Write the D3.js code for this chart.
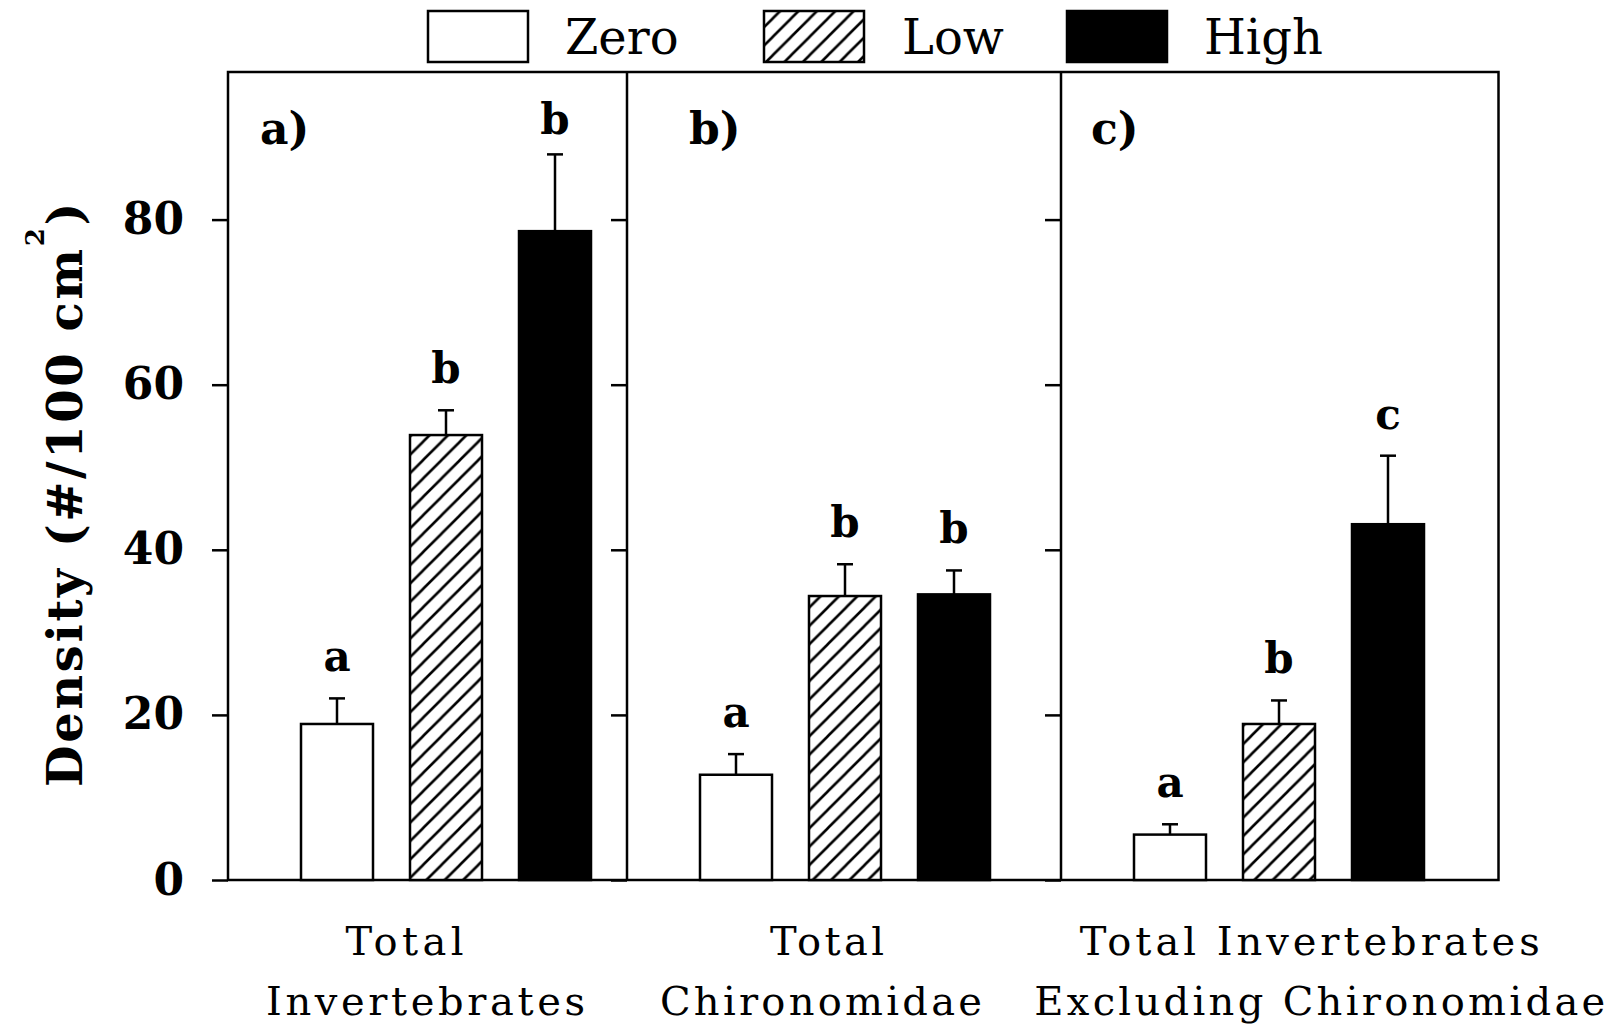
<!DOCTYPE html>
<html>
<head>
<meta charset="utf-8">
<script src="https://d3js.org/d3.v7.min.js"></script>
<style>
body { margin: 0; background: #fff; }
svg text { font-family: "DejaVu Serif", serif; fill: #000; }
.axis text { font-size: 44px; font-weight: bold; }
</style>
</head>
<body>
<script>
// chart data
var panelTags = ["a)", "b)", "c)"];
var panelLines = [["Total", "Invertebrates"], ["Total", "Chironomidae"], ["Total Invertebrates", "Excluding Chironomidae"]];
var levels = ["Zero", "Low", "High"];
var meanZero = [18.9, 12.75, 5.5];
var meanLow = [53.9, 34.4, 18.9];
var meanHigh = [78.6, 34.6, 43.1];
var seZero = [3.1, 2.5, 1.25];
var seLow = [3.0, 3.85, 2.85];
var seHigh = [9.3, 2.9, 8.3];
var sigZero = ["a", "a", "a"];
var sigLow = ["b", "b", "b"];
var sigHigh = ["b", "b", "c"];
var yTicks = [0, 20, 40, 60, 80];
var yMax = 98;

// layout
var width = 1617, height = 1032;
var edges = [228, 627, 1061, 1498.5];
var top_ = 72, base = 880;
var barW = 72;
var fills = { Zero: "#fff", Low: "url(#hatch)", High: "#000" };
var tagDx = [32, 62, 30];
var lineDx = [[-23, -2], [-17, -23], [30, 40]];
var lineLen = [[118, 319], [114, 322], [460, 571]];

var svg = d3.select("body").append("svg")
  .attr("width", width)
  .attr("height", height);

var defs = svg.append("defs");
var hatch = defs.append("pattern")
  .attr("id", "hatch")
  .attr("patternUnits", "userSpaceOnUse")
  .attr("width", 18.4)
  .attr("height", 18.4);
hatch.append("rect").attr("width", 18.4).attr("height", 18.4).attr("fill", "#fff");
hatch.append("path")
  .attr("d", "M-4.6,4.6L4.6,-4.6M0,18.4L18.4,0M13.8,23L23,13.8")
  .attr("stroke", "#000")
  .attr("stroke-width", 2.6);

var y = d3.scaleLinear().domain([0, yMax]).range([base, 71]);

// frame
svg.append("rect")
  .attr("x", edges[0]).attr("y", top_)
  .attr("width", edges[3] - edges[0]).attr("height", base - top_)
  .attr("fill", "none").attr("stroke", "#000").attr("stroke-width", 2.5);

// y axes at each panel edge
edges.slice(0, 3).forEach(function(ex, i) {
  var ax = svg.append("g")
    .attr("class", "axis")
    .attr("transform", "translate(" + ex + ",0)")
    .call(d3.axisLeft(y).tickValues(yTicks).tickSize(16).tickPadding(28)
      .tickFormat(i === 0 ? d3.format("d") : function() { return ""; }));
  ax.select(".domain").remove();
  ax.selectAll(".tick line").attr("stroke", "#000").attr("stroke-width", 2.5);
  ax.selectAll(".tick text").attr("fill", "#000").attr("font-family", "DejaVu Serif");
  if (i > 0) {
    svg.append("line")
      .attr("x1", ex).attr("x2", ex).attr("y1", top_).attr("y2", base)
      .attr("stroke", "#000").attr("stroke-width", 2.5);
  }
});

// bars
panelTags.forEach(function(tag, i) {
  var left = edges[i];
  var x = d3.scalePoint().domain(levels).range([left + 109, left + 327]);
  var rows = [
    { level: "Zero", mean: meanZero[i], se: seZero[i], sig: sigZero[i] },
    { level: "Low", mean: meanLow[i], se: seLow[i], sig: sigLow[i] },
    { level: "High", mean: meanHigh[i], se: seHigh[i], sig: sigHigh[i] }
  ];
  var g = svg.append("g");

  g.selectAll(".err").data(rows).enter().append("line")
    .attr("x1", function(d) { return x(d.level); })
    .attr("x2", function(d) { return x(d.level); })
    .attr("y1", function(d) { return y(d.mean); })
    .attr("y2", function(d) { return y(d.mean + d.se); })
    .attr("stroke", "#000").attr("stroke-width", 2.5);
  g.selectAll(".cap").data(rows).enter().append("line")
    .attr("x1", function(d) { return x(d.level) - 8; })
    .attr("x2", function(d) { return x(d.level) + 8; })
    .attr("y1", function(d) { return y(d.mean + d.se); })
    .attr("y2", function(d) { return y(d.mean + d.se); })
    .attr("stroke", "#000").attr("stroke-width", 2.5);

  g.selectAll(".bar").data(rows).enter().append("rect")
    .attr("x", function(d) { return x(d.level) - barW / 2; })
    .attr("y", function(d) { return y(d.mean); })
    .attr("width", barW)
    .attr("height", function(d) { return y(0) - y(d.mean); })
    .attr("fill", function(d) { return fills[d.level]; })
    .attr("stroke", "#000").attr("stroke-width", 2.5);

  // the top letter in panel a sits closer to its error bar
  g.selectAll(".sig").data(rows).enter().append("text")
    .attr("x", function(d) { return x(d.level); })
    .attr("y", function(d) { return y(d.mean + d.se) - (d.mean + d.se > 80 ? 20 : 27); })
    .attr("text-anchor", "middle")
    .style("font-size", "42px").style("font-weight", "bold")
    .text(function(d) { return d.sig; });

  svg.append("text")
    .attr("x", left + tagDx[i]).attr("y", 144)
    .style("font-size", "44px").style("font-weight", "bold")
    .text(tag);

  var cx = (edges[i] + edges[i + 1]) / 2;
  panelLines[i].forEach(function(line, k) {
    svg.append("text")
      .attr("x", cx + lineDx[i][k] - lineLen[i][k] / 2)
      .attr("y", k === 0 ? 955 : 1015)
      .attr("textLength", lineLen[i][k])
      .attr("lengthAdjust", "spacing")
      .style("font-size", "40px")
      .text(line);
  });
});

// y title
var yt = svg.append("text")
  .attr("transform", "translate(82,787) rotate(-90)")
  .style("font-size", "48px").style("font-weight", "bold")
  .style("letter-spacing", "2.6px");
yt.append("tspan").text("Density (#/100 cm");
yt.append("tspan").attr("dy", -38).style("font-size", "26px").text("2");
yt.append("tspan").attr("dy", 38).text(")");

// legend
var legX = [428, 764, 1067];
var legTextX = [565, 902, 1204];
levels.forEach(function(lv, j) {
  svg.append("rect")
    .attr("x", legX[j]).attr("y", 11)
    .attr("width", 100).attr("height", 51)
    .attr("fill", fills[lv]).attr("stroke", "#000").attr("stroke-width", 2.5);
  svg.append("text")
    .attr("x", legTextX[j]).attr("y", 54)
    .style("font-size", "48px")
    .text(lv);
});
</script>
</body>
</html>
